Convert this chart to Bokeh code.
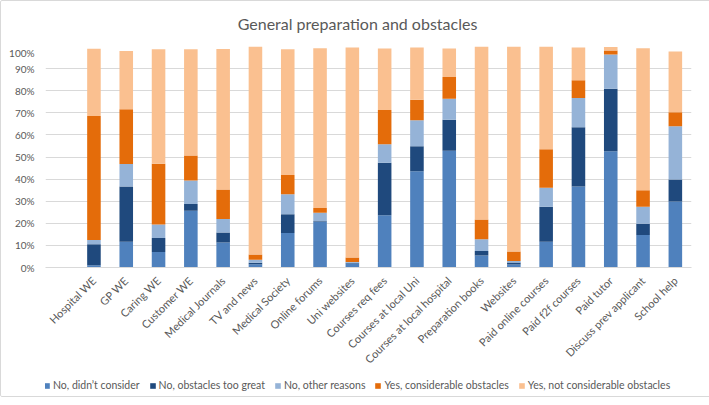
from bokeh.plotting import figure
from bokeh.models import Range1d, FixedTicker, Legend, LegendItem, Div
from bokeh.layouts import column
from bokeh.embed import file_html
from bokeh.resources import INLINE

categories = ["Hospital WE", "GP WE", "Caring WE", "Customer WE", "Medical Journals",
              "TV and news", "Medical Society", "Online forums", "Uni websites",
              "Courses req fees", "Courses at local Uni", "Courses at local hospital",
              "Preparation books", "Websites", "Paid online courses", "Paid f2f courses",
              "Paid tutor", "Discuss prev applicant", "School help"]

didnt_consider = [1.0, 11.6, 7.0, 25.7, 11.3, 1.5, 15.6, 20.6, 1.8, 23.6, 43.6, 52.8,
                  5.4, 1.4, 11.7, 36.7, 52.6, 14.7, 29.9]
obstacles_too_great = [9.5, 25.0, 6.3, 3.0, 4.5, 0.6, 8.5, 0.3, 0.3, 23.8, 11.3, 14.1,
                       2.1, 0.9, 15.8, 26.8, 28.3, 5.1, 9.9]
other_reasons = [2.0, 10.2, 6.2, 10.7, 6.2, 1.4, 9.1, 3.9, 0.4, 8.4, 11.7, 9.5,
                 5.3, 0.6, 8.6, 13.2, 15.5, 7.7, 24.1]
yes_considerable = [56.0, 24.8, 27.5, 11.3, 13.3, 2.4, 8.6, 2.1, 2.0, 15.5, 9.3, 9.8,
                    8.9, 4.3, 17.4, 8.0, 1.8, 7.5, 6.3]
yes_not_considerable = [30.5, 26.4, 51.7, 48.0, 63.6, 94.1, 57.0, 72.3, 95.0, 27.8, 23.6, 12.9,
                        78.3, 92.8, 46.5, 14.8, 1.6, 64.2, 27.5]

series_names = ["No, didn\u2019t consider", "No, obstacles too great", "No, other reasons",
                "Yes, considerable obstacles", "Yes, not considerable obstacles"]
series_keys = ["s0", "s1", "s2", "s3", "s4"]
colors = ["#4F81BD", "#1F497D", "#95B3D7", "#E46C0A", "#FAC090"]
y_ticks = [0, 10, 20, 30, 40, 50, 60, 70, 80, 90, 100]
title_text = "General preparation and obstacles"

FONT = "Lato"
GRAY = "#595959"

x = list(range(len(categories)))
data = dict(x=x, s0=didnt_consider, s1=obstacles_too_great, s2=other_reasons,
            s3=yes_considerable, s4=yes_not_considerable)

# title strip
title = Div(text=title_text, width=703, height=35,
            styles={"font-family": FONT, "font-size": "16px", "color": GRAY,
                    "text-align": "center", "line-height": "36px", "width": "703px"})

p = figure(width=703, height=328, output_backend="svg", toolbar_location=None,
           x_range=Range1d(-1.5, len(categories) - 0.5), y_range=Range1d(0, 100),
           min_border_left=44, min_border_right=13, min_border_top=0, min_border_bottom=107)
p.outline_line_color = None
p.background_fill_color = "white"
p.border_fill_color = "white"

renderers = p.vbar_stack(series_keys, x="x", width=0.42, color=colors, source=data,
                         line_color=None)

# axes
p.xaxis.ticker = FixedTicker(ticks=x)
p.xaxis.major_label_overrides = {i: c for i, c in enumerate(categories)}
p.xaxis.major_label_orientation = 0.785398
p.xaxis.major_tick_line_color = None
p.xaxis.minor_tick_line_color = None
p.xaxis.axis_line_color = "#D9D9D9"
p.xaxis.major_label_text_font = FONT
p.xaxis.major_label_text_font_size = "11px"
p.xaxis.major_label_text_color = GRAY
p.xaxis.major_label_standoff = 5

p.yaxis.ticker = FixedTicker(ticks=y_ticks)
p.yaxis.major_label_overrides = {t: f"{t}%" for t in y_ticks}
p.yaxis.axis_line_color = None
p.yaxis.major_tick_line_color = None
p.yaxis.minor_tick_line_color = None
p.yaxis.major_label_text_font = FONT
p.yaxis.major_label_text_font_size = "10px"
p.yaxis.major_label_text_color = GRAY
p.yaxis.major_label_standoff = 5

p.xgrid.grid_line_color = None
p.ygrid.grid_line_color = "#D9D9D9"
p.ygrid.ticker = FixedTicker(ticks=y_ticks)

# legend strip below the chart (its bars sit outside the visible y range, only the keys show)
lg = figure(width=703, height=22, output_backend="svg", toolbar_location=None,
            x_range=Range1d(-1.5, len(categories) - 0.5), y_range=Range1d(200, 201),
            x_axis_location=None, y_axis_location=None,
            min_border_left=0, min_border_right=0, min_border_top=0, min_border_bottom=0)
lg.grid.visible = False
lg.outline_line_color = None
lg.background_fill_color = "white"
lg.border_fill_color = "white"
keys = lg.vbar_stack(series_keys, x="x", width=0.42, color=colors, source=data, line_color=None)
legend = Legend(items=[LegendItem(label=n, renderers=[r]) for n, r in zip(series_names, keys)],
                orientation="horizontal", location=(-2, 5),
                glyph_width=7, glyph_height=7, label_standoff=3, spacing=9,
                padding=0, margin=0, border_line_color=None, background_fill_alpha=0,
                label_text_font=FONT, label_text_font_size="10.5px", label_text_color=GRAY,
                label_height=12)
lg.add_layout(legend, "center")

layout = column(title, p, lg, spacing=0,
                styles={"border": "1px solid #D9D9D9", "border-radius": "2px",
                        "background-color": "white"})

open("out.html", "w").write(file_html(layout, INLINE))
